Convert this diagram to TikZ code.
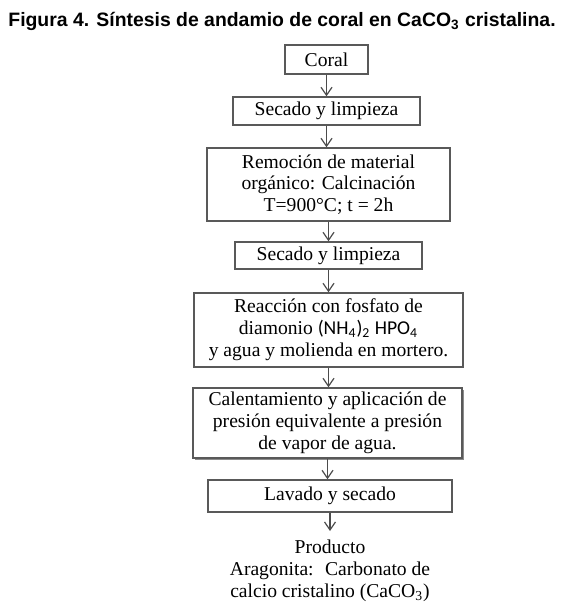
\documentclass[tikz,border=0pt]{standalone}
\usepackage{fontspec}
\setmainfont{Liberation Serif}
\newfontfamily\titlefont{Liberation Sans}
\newfontfamily\quimfont{Carlito}
\usetikzlibrary{arrows.meta,shadows}

\begin{document}
\begin{tikzpicture}[x=0.5pt,y=-0.5pt,
	paso/.style={draw=black!65,line width=0.7pt,align=center,inner sep=0pt,
		font=\fontsize{9.8}{10.9}\selectfont},
	flecha/.style={draw=black!70,line width=0.6pt,-{Straight Barb[length=4pt,width=5.5pt]}}]
	\useasboundingbox (0,0) rectangle (570,609);
	\node[anchor=base west,inner sep=0pt,font=\titlefont\bfseries\fontsize{9.7}{12}\selectfont]
		(titulo) at (8,27) {Figura 4. Síntesis de andamio de coral en CaCO\textsubscript{3} cristalina.};
	\node[paso,minimum width=41.5pt,minimum height=14.5pt] (coral) at (326.5,59.5) {Coral};
	\node[paso,minimum width=93.5pt,minimum height=14pt] (secado1) at (326.5,111) {Secado y limpieza};
	\node[paso,minimum width=121.5pt,minimum height=36.5pt] (remocion) at (328.5,184.5)
		{Remoción de material\\orgánico: Calcinación\\T=900°C; t = 2h};
	\node[paso,minimum width=93.5pt,minimum height=13.5pt] (secado2) at (328.5,255.5) {Secado y limpieza};
	\node[paso,minimum width=134.5pt,minimum height=37pt] (reaccion) at (328.5,330)
		{Reacción con fosfato de\\diamonio {\quimfont (NH\textsubscript{4})\textsubscript{2} HPO\textsubscript{4}}\\y agua y molienda en mortero.};
	\node[paso,fill=white,drop shadow={shadow xshift=0.8pt,shadow yshift=-0.8pt,fill=black!45,opacity=1},
		minimum width=134.5pt,minimum height=35pt] (calentamiento) at (327.5,423)
		{Calentamiento y aplicación de\\presión equivalente a presión\\de vapor de agua.};
	\node[paso,minimum width=122pt,minimum height=16pt] (lavado) at (330,496) {Lavado y secado};
	\node[align=center,inner sep=0pt,font=\fontsize{9.8}{10.9}\selectfont] (producto) at (330,571)
		{Producto\\Aragonita:~ Carbonato de\\calcio cristalino (CaCO\textsubscript{3})};
	\coordinate (fin) at (330,531);
	\draw[flecha] (coral.south) -- (coral.south |- secado1.north);
	\draw[flecha] (secado1.south) -- (secado1.south |- remocion.north);
	\draw[flecha] (remocion.south) -- (remocion.south |- secado2.north);
	\draw[flecha] (secado2.south) -- (secado2.south |- reaccion.north);
	\draw[flecha] (reaccion.south) -- (reaccion.south |- calentamiento.north);
	\draw[flecha] (calentamiento.south) -- (calentamiento.south |- lavado.north);
	\draw[flecha] (lavado.south) -- (fin);
\end{tikzpicture}
\end{document}
